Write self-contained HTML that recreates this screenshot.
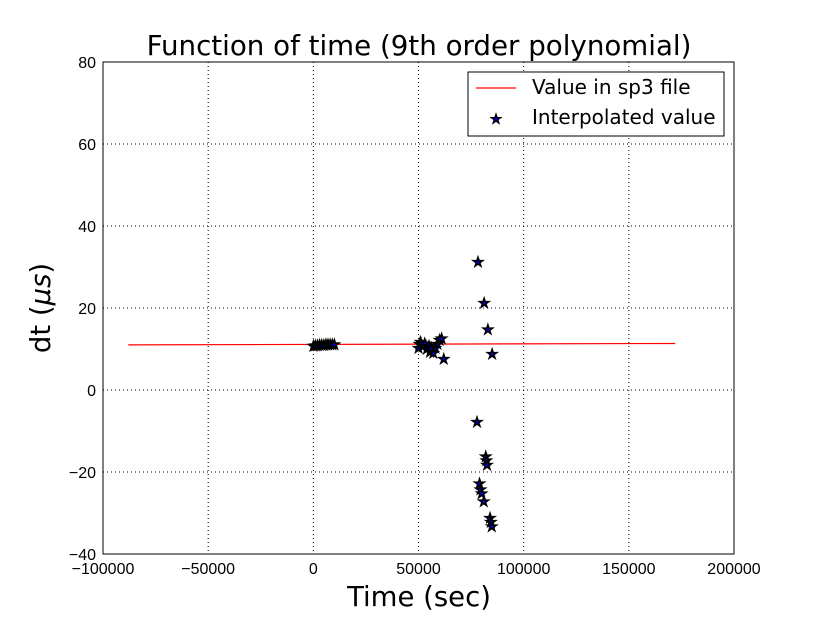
<!DOCTYPE html>
<html><head><meta charset="utf-8"><style>
body{margin:0;background:#fff;width:815px;height:615px;overflow:hidden;font-family:"Liberation Sans","DejaVu Sans",sans-serif}
</style></head><body>
<svg id="chart" width="815" height="615" xmlns="http://www.w3.org/2000/svg">
<text x="419" y="55" font-size="27.7" text-anchor="middle" font-family="DejaVu Sans, Liberation Sans, sans-serif">Function of time (9th order polynomial)</text>
<g id="grid"></g><g id="ticks"></g>
<g id="series"></g>
<rect x="103" y="62" width="631" height="492" fill="none" stroke="#000" stroke-width="1"/>
<text x="419" y="606" font-size="27.5" text-anchor="middle" font-family="DejaVu Sans, Liberation Sans, sans-serif">Time (sec)</text>
<text transform="translate(50,308) rotate(-90)" font-size="27.5" text-anchor="middle" font-family="DejaVu Sans, Liberation Sans, sans-serif">dt (<tspan font-style="italic">μs</tspan>)</text>
<g>
<rect x="468" y="72" width="256" height="64" fill="#fff" stroke="#000"/>
<line x1="476" y1="88" x2="516" y2="88" stroke="red" stroke-width="1.2"/>
<text x="532" y="94" font-size="20" font-family="DejaVu Sans, Liberation Sans, sans-serif">Value in sp3 file</text>
<text x="496" y="123" font-size="12" text-anchor="middle" fill="#0000ff" stroke="#000" stroke-width="1.4">★</text>
<text x="532" y="124" font-size="20" font-family="DejaVu Sans, Liberation Sans, sans-serif">Interpolated value</text>
</g>
</svg>
<script>
const xTicks=[-100000,-50000,0,50000,100000,150000,200000];
const yTicks=[-40,-20,0,20,40,60,80];
const lineX=[-88000,172000];
const lineY=[11.0,11.35];
const ptX=[0,1000,2000,3000,4000,5000,6000,7000,8000,9000,10000,50000,50500,51000,52000,53000,54000,55000,55500,56000,57000,58000,59000,60000,61000,62000,78300,81200,83000,85000,77800,82000,82300,82600,79000,79500,80000,81000,84000,84400,84800];
const ptY=[11,11.1,11.1,11.2,11.2,11.2,11.3,11.3,11.3,11.3,11.3,10.5,11.5,12,10.8,11.6,10.2,11,9.5,10.5,9.3,10.5,11.5,12.5,12.8,7.8,31.5,21.5,15,9,-7.6,-16,-17,-18,-22.5,-24,-25,-27,-31,-32,-33];
const S='http://www.w3.org/2000/svg';
const xs=v=>103+(v+100000)*631/300000, ys=v=>554-(v+40)*492/120;
const grid=document.getElementById('grid'),ticks=document.getElementById('ticks'),ser=document.getElementById('series');
function mk(t,a,p){const e=document.createElementNS(S,t);for(const k in a)e.setAttribute(k,a[k]);p.appendChild(e);return e;}
xTicks.forEach(v=>{const x=xs(v);
 const g=mk('line',{x1:x,x2:x,y1:62,y2:554,stroke:'#000','stroke-dasharray':'1,3','stroke-width':1},grid);
 
 
 const t=mk('text',{x:x,y:574,'font-size':16,'text-anchor':'middle'},ticks);t.textContent=(v<0?'\u2212'+(-v):v);
 
 });
yTicks.forEach(v=>{const y=ys(v);
 const g=mk('line',{x1:103,x2:734,y1:y,y2:y,stroke:'#000','stroke-dasharray':'1,3','stroke-width':1},grid);
 
 
 const t=mk('text',{x:96,y:y+6,'font-size':16,'text-anchor':'end'},ticks);t.textContent=(v<0?'\u2212'+(-v):v);
 
 });
const l=mk('line',{x1:xs(lineX[0]),y1:ys(lineY[0]),x2:xs(lineX[1]),y2:ys(lineY[1]),stroke:'red','stroke-width':1.2},ser);


ptX.forEach((x,i)=>{const t=mk('text',{x:xs(x),y:ys(ptY[i])+5,'font-size':12,'text-anchor':'middle',fill:'#0000ff',stroke:'#000','stroke-width':1.6},ser);
 t.textContent='★';
 
 });
</script>
</body></html>
